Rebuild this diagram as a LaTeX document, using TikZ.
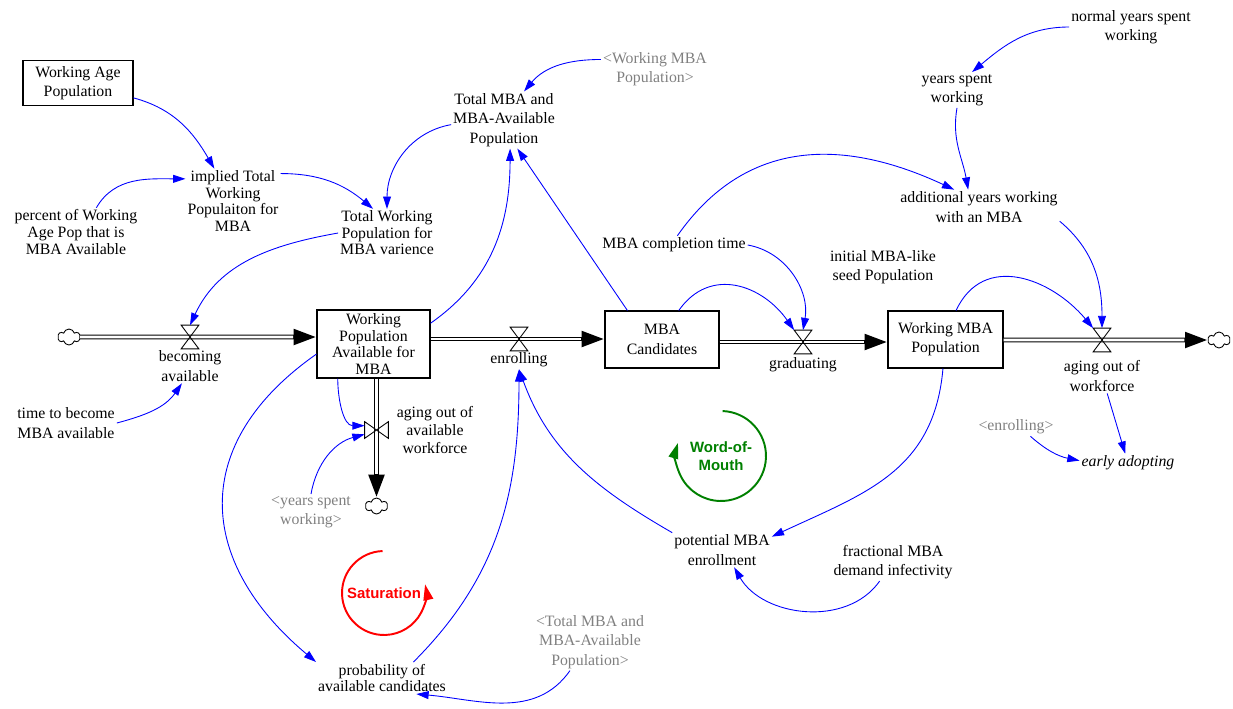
\documentclass[tikz,border=0pt]{standalone}
\usepackage{fontspec}
\setmainfont{Liberation Serif}
\newfontfamily\loopfont{Liberation Sans}
\usetikzlibrary{arrows.meta,shapes.symbols,calc,positioning}
\definecolor{womgreen}{RGB}{0,128,0}
\definecolor{ghostgray}{RGB}{128,128,128}

\tikzset{
  every node/.style={font=\fontsize{9}{11}\selectfont},
  var/.style={align=center, inner sep=1pt},
  tightvar/.style={var, font=\fontsize{9}{9.4}\selectfont},
  ghost/.style={var, text=ghostgray},
  stock/.style={draw, line width=0.6pt, align=center, inner sep=1pt},
  valveh/.style={minimum width=0.34cm, minimum height=0.46cm, inner sep=0pt},
  valvev/.style={minimum width=0.46cm, minimum height=0.32cm, inner sep=0pt},
  cloudy/.style={cloud, cloud puffs=6, aspect=1.4, draw, line width=0.5pt, fill=white,
    minimum width=0.44cm, minimum height=0.32cm, inner sep=0pt},
  pipe/.style={line width=2.8pt, -{Triangle[length=13pt,width=8.5pt]},
    postaction={draw=white, line width=1.6pt, -, shorten >=13.3pt}},
  link/.style={draw=blue, line width=0.5pt, -{Triangle[length=7pt,width=4.5pt]}},
  looplabel/.style={font=\loopfont\bfseries\fontsize{8.5}{10.5}\selectfont, align=center, inner sep=0pt},
}

\begin{document}
\begin{tikzpicture}[x=0.02cm, y=0.02cm]
    \useasboundingbox (0,0) rectangle (1233,-708);

    % Stocks
    \node[stock, minimum width=2.2cm, minimum height=0.9cm] (WAP) at (78,-83) {Working Age\\Population};
    \node[stock, tightvar, minimum width=2.26cm, minimum height=1.36cm] (WPA) at (373.5,-344) {Working\\Population\\Available for\\MBA};
    \node[stock, minimum width=2.28cm, minimum height=1.14cm] (MBAC) at (662,-339.5) {MBA\\Candidates};
    \node[stock, minimum width=2.3cm, minimum height=1.14cm] (WMBA) at (945.5,-339.5) {Working MBA\\Population};

    % Sources and sinks
    \node[cloudy] (cL) at (69,-337) {};
    \node[cloudy] (cR) at (1219,-340) {};
    \node[cloudy] (cD) at (376.5,-506) {};

    % Valves
    \node[valveh] (vBec) at (190,-337) {};
    \node[valveh] (vEnr) at (519,-339) {};
    \node[valveh] (vGrad) at (803,-342) {};
    \node[valveh] (vAgeW) at (1102,-340) {};
    \node[valvev] (vAgeA) at (376.5,-430) {};

    % Flow labels
    \node[var] (lBec) at (190,-366) {becoming\\available};
    \node[var] (lEnr) at (519,-360) {enrolling};
    \node[var] (lGrad) at (803,-365) {graduating};
    \node[var] (lAgeW) at (1102,-376) {aging out of\\workforce};
    \node[var, font=\fontsize{9}{10.2}\selectfont] (lAgeA) at (435,-430) {aging out of\\available\\workforce};

    % Auxiliaries
    \node[tightvar] (impl) at (233,-201) {implied Total\\Working\\Populaiton for\\MBA};
    \node[tightvar] (pct) at (76,-232) {percent of Working\\Age Pop that is\\MBA Available};
    \node[tightvar] (twp) at (387,-233) {Total Working\\Population for\\MBA varience};
    \node[var] (tmba) at (504,-120) {Total MBA and\\MBA-Available\\Population};
    \node[ghost] (wmbaSh) at (655,-69) {<Working MBA\\Population>};
    \node[var] (normal) at (1131,-27) {normal years spent\\working};
    \node[var] (years) at (957,-90) {years spent\\working};
    \node[var] (add) at (979,-207) {additional years working\\with an MBA};
    \node[var] (comp) at (674,-245) {MBA completion time};
    \node[var] (seed) at (883,-267) {initial MBA-like\\seed Population};
    \node[var] (timeB) at (66,-423) {time to become\\MBA available};
    \node[ghost] (yearsSh) at (311,-512) {<years spent\\working>};
    \node[tightvar] (prob) at (382,-678) {probability of\\available candidates};
    \node[ghost] (totSh) at (590,-642) {<Total MBA and\\MBA-Available\\Population>};
    \node[var] (pot) at (722,-550) {potential MBA\\enrollment};
    \node[var] (frac) at (893,-562) {fractional MBA\\demand infectivity};
    \node[ghost] (enrSh) at (1016,-427) {<enrolling>};
    \node[var, font=\fontsize{9}{11}\selectfont\itshape] (early) at (1128,-463) {early adopting};

    % Pipes
    \draw[pipe] (cL.east) -- (cL -| WPA.west);
    \draw[pipe] (WPA.east |- vEnr) -- (vEnr -| MBAC.west);
    \draw[pipe] (MBAC.east |- vGrad) -- (vGrad -| WMBA.west);
    \draw[pipe] (WMBA.east |- vAgeW) -- (cR.west);
    \draw[pipe] (WPA.south -| vAgeA) -- (cD.north);

    % Valve symbols
    \foreach \v in {vBec,vEnr,vGrad,vAgeW}
      \draw[line width=0.5pt] (\v.north west) -- (\v.north east) -- (\v.south west) -- (\v.south east) -- cycle;
    \draw[line width=0.5pt] (vAgeA.north west) -- (vAgeA.south east) -- (vAgeA.north east) -- (vAgeA.south west) -- cycle;

    % Links
    \draw[link] (WAP.-15) to[out=-15, in=120] (impl.120);
    \draw[link] (pct.50) to[out=60, in=180] (impl.155);
    \draw[link] (impl.30) to[out=0, in=140] (twp.120);
    \draw[link] (tmba.185) to[out=190, in=90] (twp.north);
    \draw[link] (wmbaSh.170) to[out=180, in=50] (tmba.55);
    \draw[link] (WPA.20) to[out=35, in=270] (tmba.-78);
    \draw[link] (MBAC.140) -- (tmba.-65);
    \draw[link] (twp.west) to[out=190, in=65] (vBec.north);
    \draw[link] (timeB.east) to[out=15, in=235] (lBec.245);
    \draw[link] (WPA.224) to[out=270, in=180] (vAgeA.160);
    \draw[link] (yearsSh.north) to[out=80, in=195] (vAgeA.200);
    \draw[link] (WPA.190) to[out=215, in=140, looseness=1.3] (prob.north west);
    \draw[link] (prob.27) to[out=45, in=270] (lEnr.south);
    \draw[link] (totSh.235) to[out=235, in=-5] (prob.-25);
    \draw[link] (pot.north west) to[out=150, in=290] (lEnr.south);
    \draw[link] (WMBA.265) to[out=265, in=25, looseness=1.1] (pot.15);
    \draw[link] (frac.235) to[out=235, in=300] (pot.-55);
    \draw[link] (comp.east) to[out=-10, in=80] (vGrad.north);
    \draw[link] (MBAC.60) to[out=55, in=125, looseness=1.2] (vGrad.north west);
    \draw[link] (comp.70) to[out=55, in=155, looseness=1.1] (add.145);
    \draw[link] (years.south) to[out=260, in=100] (add.122);
    \draw[link] (normal.west) to[out=180, in=40] (years.50);
    \draw[link] (add.-10) to[out=-40, in=90] (vAgeW.north);
    \draw[link] (WMBA.70) to[out=65, in=130, looseness=1.2] (vAgeW.north west);
    \draw[link] (lAgeW) -- (early);
    \draw[link] (enrSh) to[bend right=15] (early);

    % Loops
    \node[looplabel, text=red] (sat) at (384,-593) {Saturation};
    \draw[red, line width=1.1pt, -{Triangle[length=9pt,width=5.5pt]}]
      ([shift={(92:0.84cm)}]sat.center) arc[start angle=92, end angle=372, radius=0.84cm];
    \node[looplabel, text=womgreen] (wom) at (721,-456) {Word-of-\\Mouth};
    \draw[womgreen, line width=1.1pt, -{Triangle[length=9pt,width=5.5pt]}]
      ([shift={(88:0.9cm)}]wom.center) arc[start angle=88, end angle=-197, radius=0.9cm];
\end{tikzpicture}
\end{document}
